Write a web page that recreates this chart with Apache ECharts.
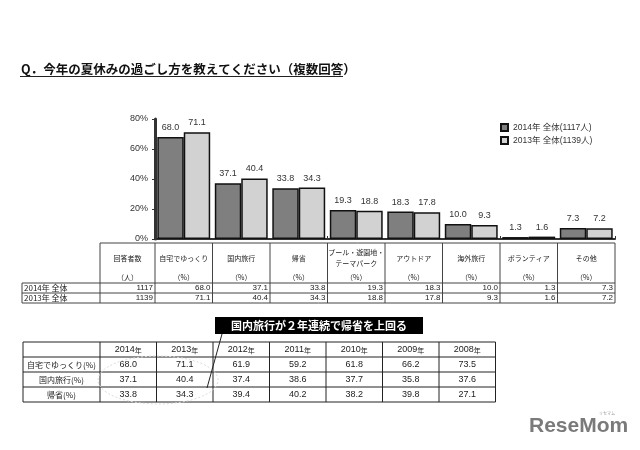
<!DOCTYPE html>
<html><head><meta charset="utf-8">
<script src="https://cdn.jsdelivr.net/npm/echarts@6/dist/echarts.min.js"></script>
<style>html,body{margin:0;padding:0;background:#fff}#c{width:640px;height:450px}</style>
</head><body><div id="c"></div>
<script>
const title = 'Q．今年の夏休みの過ごし方を教えてください（複数回答）';
const categories = ['自宅でゆっくり','国内旅行','帰省','プール・遊園地・\nテーマパーク','アウトドア','海外旅行','ボランティア','その他'];
const seriesNames = ['2014年 全体(1117人)','2013年 全体(1139人)'];
const values2014 = [68.0,37.1,33.8,19.3,18.3,10.0,1.3,7.3];
const values2013 = [71.1,40.4,34.3,18.8,17.8,9.3,1.6,7.2];
const rowLabels = ['2014年 全体','2013年 全体'];
const respondents = [1117,1139];
const yTicks = [0,20,40,60,80];

const histYears = ['2014','2013','2012','2011','2010','2009','2008'];
const histRows = ['自宅でゆっくり(%)','国内旅行(%)','帰省(%)'];
const histHome = [68.0,71.1,61.9,59.2,61.8,66.2,73.5];
const histDomestic = [37.1,40.4,37.4,38.6,37.7,35.8,37.6];
const histReturn = [33.8,34.3,39.4,40.2,38.2,39.8,27.1];
const annotation = '国内旅行が２年連続で帰省を上回る';

const FONT = '"Liberation Sans","Noto Sans CJK JP",sans-serif';
const JP = '"Noto Sans CJK JP",sans-serif';
const GL = 155, GR = 615, GT = 119, GB = 239;

const chart = echarts.init(document.getElementById('c'), null, {renderer:'canvas'});
chart.setOption({
  animation:false,
  backgroundColor:'#fff',
  textStyle:{fontFamily:FONT},
  grid:{left:GL, right:640-GR, top:GT, bottom:450-GB, containLabel:false},
  legend:{orient:'vertical', left:495, top:118, itemWidth:7, itemHeight:7, itemGap:4, icon:'rect',
    textStyle:{fontSize:8.5, color:'#333', fontFamily:FONT}, data:seriesNames},
  xAxis:{type:'category', data:categories, boundaryGap:true,
    axisLine:{lineStyle:{color:'#333', width:2}},
    axisTick:{show:true, inside:true, length:3, lineStyle:{color:'#333'}},
    axisLabel:{show:false}},
  yAxis:{type:'value', min:yTicks[0], max:yTicks[yTicks.length-1], interval:20,
    axisLine:{show:true, lineStyle:{color:'#333', width:3}},
    axisTick:{show:true, length:3, lineStyle:{color:'#333'}},
    splitLine:{show:false},
    axisLabel:{formatter:'{value}%', fontSize:9, color:'#333', margin:7, fontFamily:FONT}},
  series:[
    {name:seriesNames[0], type:'bar', data:values2014, barGap:'0%', barCategoryGap:'8%',
     itemStyle:{color:'#7f7f7f', borderColor:'#111', borderWidth:1.5},
     label:{show:true, position:'top', distance:5, fontSize:9, color:'#333', formatter:p=>p.value.toFixed(1)}},
    {name:seriesNames[1], type:'bar', data:values2013, barGap:'0%', barCategoryGap:'8%',
     itemStyle:{color:'#d2d2d2', borderColor:'#111', borderWidth:1.5},
     label:{show:true, position:'top', distance:5, fontSize:9, color:'#333', formatter:p=>p.value.toFixed(1)}}
  ]
});

const g = [];
function line(x1,y1,x2,y2,color,w){g.push({type:'line',shape:{x1,y1,x2,y2},style:{stroke:color||'#333',lineWidth:w||1},silent:true});}
function text(x,y,t,opt){g.push({type:'text',x,y,style:Object.assign({text:t,fill:'#222',font:'9px '+FONT,textAlign:'center',textVerticalAlign:'middle'},opt||{}),silent:true});}

// Title
text(21,69,title,{textAlign:'left',font:'bold 12.5px '+JP,fill:'#111'});
line(20,76.5,343,76.5,'#222',1);

// Upper table
const n = categories.length;
const cw = (GR-GL)/n;
const TT=243, TH=283, R1=293, R2=303, labL=22, c0=100;
line(c0,TT,GR,TT,'#444',1);
[TH,R1,R2].forEach(y=>line(labL,y,GR,y,'#444',1));
line(labL,TH,labL,R2,'#444',1);
line(c0,TT,c0,R2,'#444',1);
for(let i=0;i<=n;i++){const x=GL+i*cw; line(x,TT,x,R2,'#444',1);}
text((c0+GL)/2,258,'回答者数',{font:'7px '+JP});
text((c0+GL)/2,277,'（人）',{font:'7px '+JP});
categories.forEach((c,i)=>{
  const cx = chart.convertToPixel({xAxisIndex:0}, i);
  text(cx,258,c,{font:'7px '+JP, lineHeight:11});
  text(cx,277,'（%）',{font:'7px '+JP});
});
rowLabels.forEach((r,k)=>{
  const y = k===0 ? 288 : 298;
  text(labL+2,y,r,{textAlign:'left',font:'8px '+JP});
  text(GL-2,y,String(respondents[k]),{textAlign:'right',font:'8px '+FONT});
  const vals = k===0?values2014:values2013;
  vals.forEach((v,i)=>text(GL+(i+1)*cw-2,y,v.toFixed(1),{textAlign:'right',font:'8px '+FONT}));
});

// Bottom table
const BL=23, BC=100, bw=56.5, rows=[342,357,372,387,402];
const BR = BC + bw*histYears.length;
rows.forEach(y=>line(BL,y,BR,y,'#222',1));
line(BL,rows[0],BL,rows[4],'#222',1);
for(let i=0;i<=histYears.length;i++){const x=BC+i*bw; line(x,rows[0],x,rows[4],'#222',1);}
histYears.forEach((yr,i)=>{
  g.push({type:'text',x:BC+(i+0.5)*bw,y:349.5,style:{text:'{a|'+yr+'}{b|年}',textAlign:'center',textVerticalAlign:'middle',
    rich:{a:{font:'9px '+FONT,fill:'#222'},b:{font:'7px '+JP,fill:'#222',padding:[2,0,0,0]}}},silent:true});
});
const histData=[histHome,histDomestic,histReturn];
histRows.forEach((r,k)=>{
  const y=(rows[k+1]+rows[k+2])/2;
  text((BL+BC)/2,y,r,{font:'8px '+JP});
  histData[k].forEach((v,i)=>text(BC+(i+0.5)*bw,y,v.toFixed(1),{font:'9px '+FONT}));
});

// faint ellipses
g.push({type:'ellipse',shape:{cx:158,cy:380,rx:60,ry:24},style:{fill:'none',stroke:'#ddd',lineDash:[2,2],lineWidth:1},silent:true});

// Annotation
g.push({type:'rect',shape:{x:215,y:317,width:208,height:17},style:{fill:'#000'},silent:true});
text(319,325.5,annotation,{font:'bold 11px '+JP,fill:'#fff'});
line(222,334,207,388,'#222',1);

// Watermark
text(529,426,'ReseMom',{textAlign:'left',font:'bold 21px "Liberation Sans",sans-serif',fill:'#7a7a7a'});
text(607,413,'リセマム',{font:'4px '+JP,fill:'#999'});

chart.setOption({graphic:{elements:g}});
</script></body></html>
